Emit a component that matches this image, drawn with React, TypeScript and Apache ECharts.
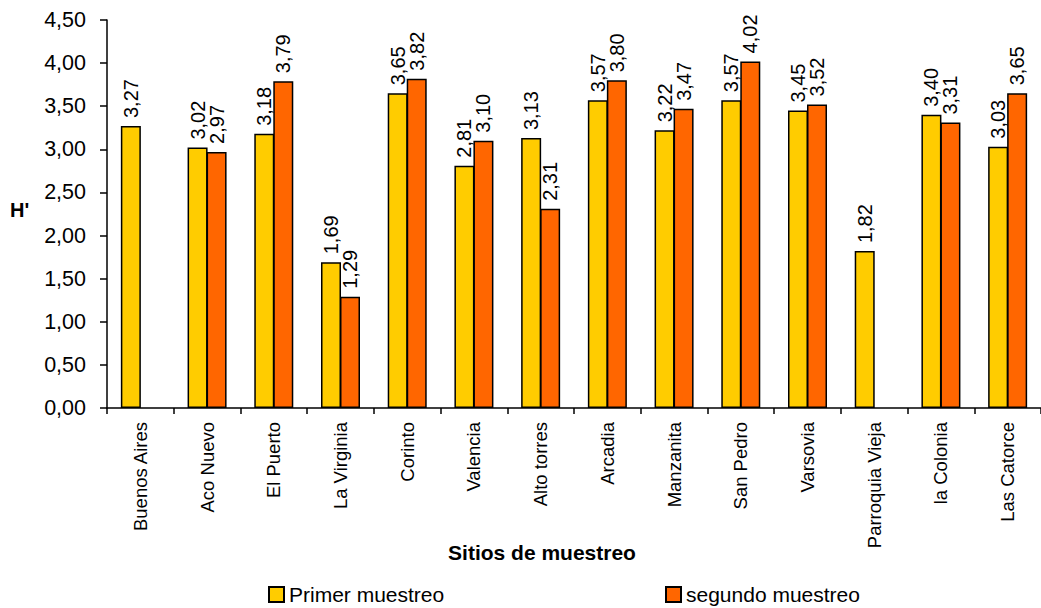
import React, { useEffect, useRef } from "react";
import * as echarts from "echarts";

const categories = [
  "Buenos Aires", "Aco Nuevo", "El Puerto", "La Virginia", "Corinto", "Valencia",
  "Alto torres", "Arcadia", "Manzanita", "San Pedro", "Varsovia", "Parroquia Vieja",
  "la Colonia", "Las Catorce",
];
const primerMuestreo = [3.27, 3.02, 3.18, 1.69, 3.65, 2.81, 3.13, 3.57, 3.22, 3.57, 3.45, 1.82, 3.40, 3.03];
const segundoMuestreo = [null, 2.97, 3.79, 1.29, 3.82, 3.10, 2.31, 3.80, 3.47, 4.02, 3.52, null, 3.31, 3.65];
const seriesNames = ["Primer muestreo", "segundo muestreo"];
const yTitle = "H'";
const xTitle = "Sitios de muestreo";

const FONT = "'Liberation Sans', Arial, sans-serif";
const fmt = (v: number) => v.toFixed(2).replace(".", ",");

export default function App() {
  const ref = useRef<HTMLDivElement>(null);
  useEffect(() => {
    if (!ref.current) return;
    const chart = echarts.init(ref.current, null, { renderer: "svg" });
    const label = {
      show: true,
      position: "top",
      rotate: 90,
      align: "left",
      verticalAlign: "middle",
      distance: 8,
      fontSize: 20,
      fontFamily: FONT,
      color: "#000",
      formatter: (p: any) => fmt(p.value),
    };
    const legendBase = {
      icon: "rect",
      itemWidth: 15,
      itemHeight: 15,
      itemGap: 8,
      top: 579,
      textStyle: { fontSize: 21, fontFamily: FONT, color: "#000" },
    };
    chart.setOption({
      animation: false,
      backgroundColor: "#fff",
      grid: { left: 107, top: 20, width: 939, height: 388, containLabel: false },
      legend: [
        { ...legendBase, data: [seriesNames[0]], left: 263 },
        { ...legendBase, data: [seriesNames[1]], left: 660 },
      ],
      xAxis: {
        type: "category",
        data: categories,
        axisLine: { lineStyle: { color: "#000", width: 1.5 } },
        axisTick: { show: true, alignWithLabel: false, length: 6, lineStyle: { color: "#000", width: 1.5 } },
        axisLabel: {
          rotate: 90,
          interval: 0,
          margin: 14,
          fontSize: 18.5,
          fontFamily: FONT,
          color: "#000",
        },
        splitLine: { show: false },
      },
      yAxis: {
        type: "value",
        min: 0,
        max: 4.5,
        interval: 0.5,
        axisLine: { show: true, lineStyle: { color: "#000", width: 1.5 } },
        axisTick: { show: true, length: 7, lineStyle: { color: "#000", width: 1.5 } },
        axisLabel: {
          fontSize: 21.5,
          fontFamily: FONT,
          color: "#000",
          margin: 21,
          formatter: (v: number) => fmt(v),
        },
        splitLine: { show: false },
      },
      series: [
        {
          name: seriesNames[0],
          type: "bar",
          data: primerMuestreo,
          barWidth: 20,
          barGap: "-5%",
          itemStyle: { color: "#FFCC00", borderColor: "#000", borderWidth: 1.5 },
          label,
        },
        {
          name: seriesNames[1],
          type: "bar",
          data: segundoMuestreo,
          barWidth: 20,
          itemStyle: { color: "#FF6600", borderColor: "#000", borderWidth: 1.5 },
          label,
        },
      ],
      graphic: [
        {
          type: "text",
          left: 10,
          top: 200,
          style: { text: yTitle, font: `bold 20px ${FONT}`, fill: "#000" },
        },
        {
          type: "text",
          x: 542,
          y: 552,
          style: {
            text: xTitle,
            font: `bold 21px ${FONT}`,
            fill: "#000",
            align: "center",
            verticalAlign: "middle",
          },
        },
      ],
    });
    return () => chart.dispose();
  }, []);
  return <div ref={ref} style={{ width: 1041, height: 608, position: "absolute", left: 0, top: 0 }} />;
}
